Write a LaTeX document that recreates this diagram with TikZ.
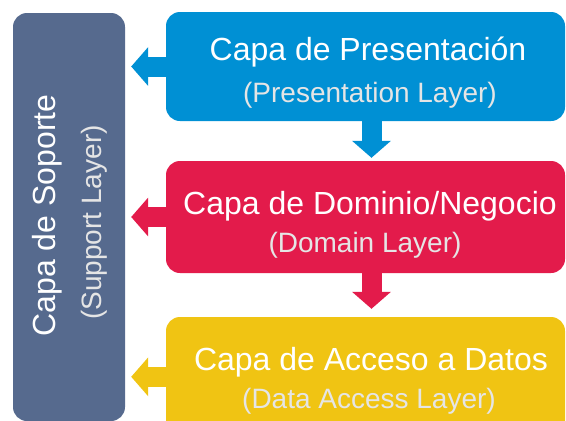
\documentclass[tikz,border=0pt]{standalone}
\usepackage{fontspec}
\setmainfont{Liberation Sans}
\usetikzlibrary{arrows.meta}

\definecolor{presblue}{RGB}{0,144,212}
\definecolor{domred}{RGB}{227,27,75}
\definecolor{datayellow}{RGB}{240,196,19}
\definecolor{suppslate}{RGB}{86,106,142}

\begin{document}
\begin{tikzpicture}[x=1pt, y=1pt,
  layer/.style = {shape=rectangle, rounded corners=14pt, inner sep=0pt,
    minimum width=399pt, minimum height=112pt},
  title/.style = {anchor=base, inner sep=0pt, text=white,
    font=\fontsize{32}{38}\selectfont},
  subtitle/.style = {anchor=base, inner sep=0pt, text=white!90!black,
    font=\fontsize{28}{34}\selectfont},
  flow/.style = {line width=20pt, -{Triangle[width=38pt,length=17pt]}}]
  \useasboundingbox (0,0) rectangle (566,-421);
  \clip (0,0) rectangle (566,-421);
  % boxes
  \node[layer, fill=suppslate, minimum width=112pt, minimum height=408pt] (support) at (69,-217) {};
  \node[layer, fill=presblue, minimum height=109pt] (pres) at (365.5,-66.5) {};
  \node[layer, fill=domred] (dom) at (365.5,-217) {};
  \node[layer, fill=datayellow, minimum height=150pt] (data) at (365.5,-392) {};
  % texts
  \node[title, rotate=90] (support-es) at (56,-215.5) {Capa de Soporte};
  \node[subtitle, rotate=90] (support-en) at (101,-222.5) {(Support Layer)};
  \node[title] (pres-es) at (368,-60) {Capa de Presentación};
  \node[subtitle] (pres-en) at (370,-102) {(Presentation Layer)};
  \node[title] (dom-es) at (370,-214) {Capa de Dominio/Negocio};
  \node[subtitle] (dom-en) at (365,-252) {(Domain Layer)};
  \node[title] (data-es) at (371,-370) {Capa de Acceso a Datos};
  \node[subtitle] (data-en) at (369,-408) {(Data Access Layer)};
  % arrows
  \draw[flow, presblue, shorten >=6pt] (pres.west) -- (pres.west -| support.east);
  \draw[flow, domred, shorten >=6pt] (dom.west) -- (dom.west -| support.east);
  \draw[flow, datayellow, shorten >=6pt] ([yshift=-60pt]data.north west) -- ([yshift=-60pt]data.north west -| support.east);
  \draw[flow, presblue, shorten >=3pt] ([xshift=6pt]pres.south) -- ([xshift=6pt]dom.north);
  \draw[flow, domred, shorten >=8pt] ([xshift=6pt]dom.south) -- ([xshift=6pt]data.north);
\end{tikzpicture}
\end{document}
